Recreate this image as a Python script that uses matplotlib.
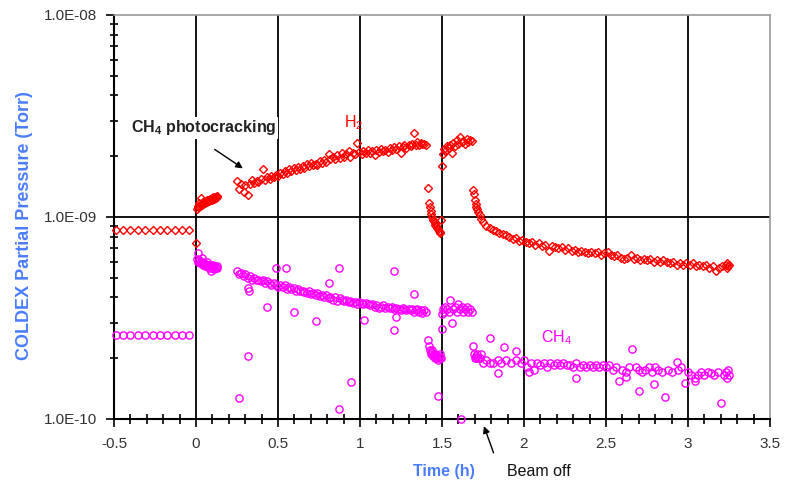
import numpy as np
import matplotlib
matplotlib.use("Agg")
import matplotlib.pyplot as plt
from matplotlib.patches import FancyArrowPatch
from matplotlib.ticker import MultipleLocator, LogLocator, FuncFormatter, NullFormatter

plt.rcParams['font.family'] = ['Liberation Sans', 'DejaVu Sans']
plt.rcParams['mathtext.fontset'] = 'custom'
plt.rcParams['mathtext.rm'] = 'Liberation Sans'
plt.rcParams['mathtext.bf'] = 'Liberation Sans:bold'
plt.rcParams['axes.unicode_minus'] = False

# pressures below are in units of 1e-9 Torr, time in hours
# before beam on
pre_t = [-0.49, -0.445, -0.40, -0.355, -0.31, -0.265, -0.22, -0.175, -0.13, -0.085, -0.045]
pre_h2 = [0.86] * 11
pre_ch4 = [0.26] * 11

# first block after beam on (0 - 0.13 h)
b1_t = [0.005, 0.01, 0.015, 0.02, 0.025, 0.03, 0.035, 0.04, 0.045, 0.05,
        0.055, 0.06, 0.065, 0.07, 0.075, 0.08, 0.085, 0.09, 0.095, 0.10,
        0.105, 0.11, 0.115, 0.12, 0.125, 0.13]
b1_h2 = [1.10, 1.14, 1.12, 1.17, 1.13, 1.24, 1.15, 1.18, 1.16, 1.20,
         1.17, 1.19, 1.21, 1.18, 1.22, 1.20, 1.23, 1.21, 1.24, 1.22,
         1.25, 1.23, 1.26, 1.24, 1.27, 1.25]
b1_ch4 = [0.62, 0.60, 0.66, 0.61, 0.59, 0.60, 0.63, 0.58, 0.60, 0.59,
          0.57, 0.58, 0.60, 0.57, 0.58, 0.56, 0.58, 0.54, 0.57, 0.56,
          0.58, 0.55, 0.57, 0.56, 0.57, 0.56]

# second block (0.25 - 1.40 h)
b2_t = [0.25, 0.26, 0.275, 0.29, 0.30, 0.315, 0.33, 0.34, 0.355, 0.37,
        0.38, 0.395, 0.41, 0.42, 0.435, 0.45, 0.46, 0.475, 0.49, 0.50,
        0.515, 0.53, 0.54, 0.555, 0.57, 0.58, 0.595, 0.61, 0.62, 0.635,
        0.65, 0.66, 0.675, 0.69, 0.70, 0.715, 0.73, 0.74, 0.755, 0.77,
        0.78, 0.795, 0.81, 0.82, 0.835, 0.85, 0.86, 0.875, 0.89, 0.90,
        0.915, 0.93, 0.94, 0.955, 0.97, 0.98, 0.995, 1.01, 1.02, 1.035,
        1.05, 1.06, 1.075, 1.09, 1.10, 1.115, 1.13, 1.14, 1.155, 1.17,
        1.18, 1.195, 1.21, 1.22, 1.235, 1.25, 1.26, 1.27, 1.28, 1.30,
        1.31, 1.32, 1.33, 1.34, 1.35, 1.36, 1.37, 1.38, 1.39, 1.40]
b2_h2 = [1.50, 1.38, 1.45, 1.33, 1.44, 1.28, 1.46, 1.52, 1.47, 1.50,
         1.49, 1.55, 1.72, 1.53, 1.58, 1.55, 1.60, 1.57, 1.62, 1.60,
         1.66, 1.63, 1.69, 1.66, 1.72, 1.68, 1.74, 1.70, 1.76, 1.72,
         1.79, 1.75, 1.82, 1.78, 1.86, 1.81, 1.84, 1.80, 1.90, 1.86,
         1.92, 1.88, 2.05, 1.94, 1.98, 1.93, 2.02, 1.97, 2.08, 1.99,
         2.04, 2.12, 1.98, 2.08, 2.06, 2.32, 2.10, 2.05, 2.12, 2.08,
         2.14, 2.07, 2.12, 2.03, 2.15, 2.10, 2.17, 2.12, 2.14, 2.09,
         2.20, 2.15, 2.22, 2.18, 2.24, 2.08, 2.23, 2.27, 2.20, 2.28,
         2.24, 2.30, 2.62, 2.28, 2.35, 2.26, 2.32, 2.29, 2.31, 2.27]
b2_ch4 = [0.54, 0.52, 0.53, 0.51, 0.52, 0.50, 0.51, 0.49, 0.50, 0.49,
          0.49, 0.48, 0.49, 0.47, 0.48, 0.47, 0.46, 0.47, 0.46, 0.45,
          0.46, 0.45, 0.46, 0.44, 0.45, 0.44, 0.445, 0.43, 0.44, 0.43,
          0.43, 0.425, 0.42, 0.43, 0.415, 0.42, 0.41, 0.42, 0.405, 0.41,
          0.40, 0.41, 0.395, 0.40, 0.39, 0.40, 0.385, 0.395, 0.39, 0.385,
          0.39, 0.38, 0.385, 0.375, 0.38, 0.37, 0.38, 0.375, 0.37, 0.375,
          0.37, 0.365, 0.37, 0.36, 0.365, 0.355, 0.36, 0.365, 0.355, 0.36,
          0.355, 0.36, 0.35, 0.355, 0.35, 0.345, 0.355, 0.35, 0.345, 0.35,
          0.345, 0.35, 0.34, 0.345, 0.35, 0.34, 0.345, 0.335, 0.345, 0.34]

# drop (1.41 - 1.50 h)
b3_t = [1.415, 1.42, 1.425, 1.43, 1.435, 1.44, 1.445, 1.45, 1.455, 1.46,
        1.465, 1.47, 1.475, 1.48, 1.485, 1.49, 1.495]
b3_h2 = [1.39, 1.17, 1.12, 1.07, 1.03, 1.00, 0.97, 0.95, 0.93, 0.91,
         0.90, 0.88, 0.87, 0.85, 0.84, 0.83, 0.97]
b3_ch4 = [0.245, 0.23, 0.22, 0.215, 0.21, 0.22, 0.205, 0.21, 0.20, 0.21,
          0.205, 0.20, 0.195, 0.205, 0.20, 0.21, 0.20]

# third block (1.50 - 1.68 h)
b4_t = [1.50, 1.505, 1.51, 1.52, 1.53, 1.54, 1.55, 1.56, 1.57, 1.58,
        1.59, 1.60, 1.61, 1.62, 1.63, 1.64, 1.65, 1.66, 1.67, 1.68]
b4_h2 = [1.78, 2.05, 2.18, 2.12, 2.25, 2.20, 2.28, 2.08, 2.32, 2.25,
         2.40, 2.30, 2.48, 2.35, 2.38, 2.30, 2.42, 2.36, 2.40, 2.38]
b4_ch4 = [0.33, 0.35, 0.34, 0.36, 0.35, 0.34, 0.39, 0.30, 0.35, 0.36,
          0.34, 0.37, 0.35, 0.36, 0.34, 0.35, 0.36, 0.34, 0.35, 0.34]

# after beam off, H2
b5_t = [1.69, 1.695, 1.70, 1.705, 1.71, 1.715, 1.72, 1.73, 1.74, 1.75,
        1.77, 1.79, 1.81, 1.83, 1.85, 1.87, 1.89, 1.91, 1.93, 1.95,
        1.97, 1.99, 2.01, 2.03, 2.05, 2.07, 2.09, 2.11, 2.13, 2.15,
        2.17, 2.19, 2.21, 2.23, 2.25, 2.27, 2.29, 2.31, 2.33, 2.35,
        2.37, 2.39, 2.41, 2.43, 2.45, 2.47, 2.49, 2.51, 2.53, 2.55,
        2.57, 2.59, 2.61, 2.63, 2.65, 2.67, 2.69, 2.71, 2.73, 2.75,
        2.77, 2.79, 2.81, 2.83, 2.85, 2.87, 2.89, 2.91, 2.93, 2.95,
        2.97, 2.99, 3.01, 3.03, 3.05, 3.07, 3.09, 3.11, 3.13, 3.15,
        3.17, 3.19, 3.21, 3.23, 3.235, 3.24, 3.245, 3.25]
b5_h2 = [1.36, 1.30, 1.22, 1.16, 1.12, 1.10, 1.06, 1.02, 0.98, 0.94,
         0.90, 0.88, 0.86, 0.85, 0.83, 0.82, 0.81, 0.80, 0.78, 0.79,
         0.76, 0.77, 0.75, 0.74, 0.75, 0.73, 0.74, 0.72, 0.73, 0.68,
         0.72, 0.71, 0.70, 0.71, 0.69, 0.70, 0.68, 0.69, 0.67, 0.68,
         0.67, 0.66, 0.67, 0.66, 0.67, 0.65, 0.66, 0.67, 0.65, 0.64,
         0.65, 0.63, 0.62, 0.63, 0.65, 0.62, 0.63, 0.61, 0.62, 0.61,
         0.62, 0.60, 0.61, 0.60, 0.61, 0.60, 0.59, 0.60, 0.58, 0.59,
         0.58, 0.59, 0.58, 0.59, 0.57, 0.58, 0.57, 0.58, 0.56, 0.57,
         0.54, 0.56, 0.57, 0.58, 0.56, 0.59, 0.57, 0.58]

# after beam off, CH4
b5c_t = [1.69, 1.695, 1.70, 1.705, 1.71, 1.715, 1.72, 1.73, 1.75, 1.77,
         1.79, 1.81, 1.84, 1.86, 1.89, 1.92, 1.95, 1.98, 2.00, 2.02,
         2.04, 2.06, 2.08, 2.10, 2.12, 2.14, 2.16, 2.18, 2.20, 2.22,
         2.24, 2.26, 2.28, 2.30, 2.32, 2.34, 2.36, 2.38, 2.40, 2.42,
         2.44, 2.46, 2.48, 2.50, 2.52, 2.54, 2.56, 2.60, 2.62, 2.64,
         2.68, 2.70, 2.72, 2.74, 2.76, 2.78, 2.80, 2.82, 2.84, 2.88,
         2.90, 2.94, 2.96, 3.00, 3.02, 3.04, 3.06, 3.08, 3.10, 3.12,
         3.14, 3.16, 3.18, 3.22, 3.23, 3.24, 3.245, 3.25]
b5c_ch4 = [0.23, 0.21, 0.20, 0.205, 0.20, 0.21, 0.20, 0.20, 0.19, 0.195,
           0.19, 0.19, 0.195, 0.19, 0.195, 0.19, 0.195, 0.19, 0.195, 0.18,
           0.19, 0.175, 0.19, 0.185, 0.19, 0.18, 0.19, 0.185, 0.19, 0.185,
           0.19, 0.185, 0.185, 0.18, 0.19, 0.18, 0.185, 0.18, 0.185, 0.18,
           0.185, 0.18, 0.185, 0.18, 0.185, 0.175, 0.18, 0.175, 0.17, 0.18,
           0.18, 0.175, 0.17, 0.175, 0.18, 0.17, 0.18, 0.175, 0.17, 0.175,
           0.17, 0.175, 0.18, 0.17, 0.165, 0.16, 0.165, 0.17, 0.165, 0.17,
           0.168, 0.165, 0.17, 0.165, 0.17, 0.16, 0.175, 0.165]

# scattered CH4 readings
ch4_out_t = [0.26, 0.32, 0.32, 0.325, 0.43, 0.49, 0.55, 0.60, 0.73, 0.81,
             0.87, 0.87, 0.945, 1.025, 1.21, 1.21, 1.22, 1.33, 1.475, 1.50,
             1.615, 1.74, 1.79, 1.84, 1.88, 1.95, 2.03, 2.32, 2.58, 2.62,
             2.66, 2.70, 2.79, 2.86, 2.93, 2.98, 3.04, 3.20]
ch4_out = [0.127, 0.205, 0.445, 0.43, 0.36, 0.56, 0.56, 0.338, 0.305, 0.47,
           0.56, 0.112, 0.152, 0.31, 0.54, 0.276, 0.32, 0.415, 0.13, 0.28,
           0.10, 0.21, 0.252, 0.169, 0.228, 0.216, 0.17, 0.16, 0.155, 0.162,
           0.222, 0.138, 0.149, 0.129, 0.191, 0.15, 0.155, 0.12]

h2_t = pre_t + [0.0] + b1_t + b2_t + b3_t + b4_t + b5_t
h2_p = np.array(pre_h2 + [0.74] + b1_h2 + b2_h2 + b3_h2 + b4_h2 + b5_h2) * 1e-9
ch4_t = pre_t + b1_t + b2_t + b3_t + b4_t + b5c_t + ch4_out_t
ch4_p = np.array(pre_ch4 + b1_ch4 + b2_ch4 + b3_ch4 + b4_ch4 + b5c_ch4 + ch4_out) * 1e-9

fig = plt.figure(figsize=(7.94, 4.82), dpi=100)
ax = fig.add_axes([114/794, 1 - 419/482, 656/794, 404/482])

blue = '#4a7dff'
grey_txt = '#333333'

ax.plot(h2_t, h2_p, linestyle='none', marker='D', ms=4.5, mfc='none',
        mec='#ff0000', mew=1.0, zorder=3, clip_on=False)
ax.plot(ch4_t, ch4_p, linestyle='none', marker='o', ms=5.2, mfc='none',
        mec='#ff00ff', mew=1.0, zorder=3, clip_on=False)

ax.set_yscale('log')
ax.set_xlim(-0.5, 3.5)
ax.set_ylim(1e-10, 1e-8)

ax.xaxis.set_major_locator(MultipleLocator(0.5))
ax.xaxis.set_minor_locator(MultipleLocator(0.1))
ax.xaxis.set_major_formatter(FuncFormatter(lambda v, _: f"{v:g}"))
ax.yaxis.set_major_locator(LogLocator(base=10))
ax.yaxis.set_minor_locator(LogLocator(base=10, subs=np.arange(2, 10)))
ax.yaxis.set_major_formatter(FuncFormatter(lambda v, _: f"{v:.1E}"))
ax.yaxis.set_minor_formatter(NullFormatter())

ax.tick_params(axis='x', which='major', direction='out', length=6, width=1.2,
               labelsize=11, labelcolor=grey_txt, pad=7)
ax.tick_params(axis='x', which='minor', direction='inout', length=7, width=1.2)
ax.tick_params(axis='y', which='major', direction='out', length=6, width=1.2,
               labelsize=11, labelcolor=grey_txt, pad=6)
ax.tick_params(axis='y', which='minor', direction='inout', length=6, width=1.2)

# gridlines at inner major ticks only
for v in [0, 0.5, 1, 1.5, 2, 2.5, 3]:
    ax.axvline(v, color='black', lw=1.3, zorder=1)
ax.axhline(1e-9, color='black', lw=1.3, zorder=1)

for s in ['left', 'bottom']:
    ax.spines[s].set_linewidth(1.5)
    ax.spines[s].set_color('black')
for s in ['top', 'right']:
    ax.spines[s].set_linewidth(1.2)
    ax.spines[s].set_color('#9a9a9a')

ax.set_xlabel('Time (h)', color=blue, fontsize=11.5, fontweight='bold')
ax.xaxis.set_label_coords(0.503, -0.112)
ax.set_ylabel('COLDEX Partial Pressure (Torr)', color=blue, fontsize=13,
              fontweight='bold')
ax.yaxis.set_label_coords(-0.124, 0.478)

ax.text(0.05, 2.76e-9, r'CH$_\mathbf{4}$ photocracking', fontsize=11.5,
        fontweight='bold', color='#222222', ha='center', va='center', zorder=4,
        bbox=dict(facecolor='white', edgecolor='none', pad=1))
ax.add_patch(FancyArrowPatch((0.10, 2.2e-9), (0.30, 1.71e-9),
                             arrowstyle='-|>', color='black', lw=1,
                             mutation_scale=10, zorder=4))
ax.text(0.96, 2.92e-9, r'H$_2$', fontsize=11.5, color='#ff0000',
        ha='center', va='center')
ax.text(2.20, 2.52e-10, r'CH$_4$', fontsize=11.5, color='#ff00ff',
        ha='center', va='center')

ax.add_patch(FancyArrowPatch((1.82, 6.6e-11), (1.75, 9.5e-11),
                             arrowstyle='-|>', color='black', lw=1,
                             mutation_scale=10, clip_on=False))
ax.text(2.09, 5.47e-11, 'Beam off', fontsize=11.5, color='#111111',
        ha='center', va='center', clip_on=False)

fig.savefig('out.png', dpi=100)
